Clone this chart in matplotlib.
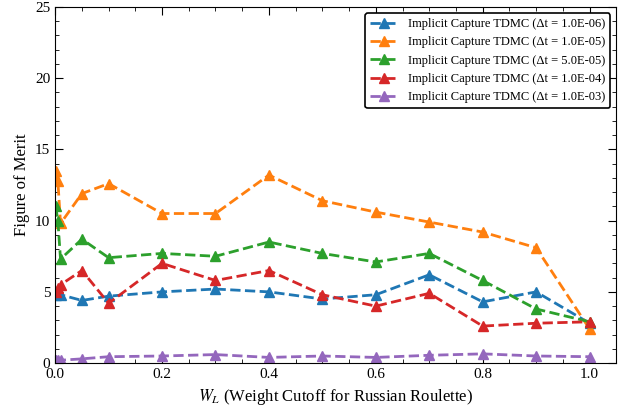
import numpy as np
import matplotlib
matplotlib.use("Agg")
import matplotlib.pyplot as plt
from matplotlib.ticker import MultipleLocator

plt.rcParams['font.family'] = ['Liberation Serif', 'DejaVu Serif']
plt.rcParams['mathtext.fontset'] = 'stix'

# Russian roulette weight cutoffs
w_cut = [0.001, 0.005, 0.01, 0.05, 0.1, 0.2, 0.3, 0.4, 0.5, 0.6, 0.7, 0.8, 0.9, 1.0]

# figure of merit per time step
fom_1e6 = [4.8, 4.9, 4.8, 4.4, 4.7, 5.0, 5.2, 5.0, 4.5, 4.8, 6.2, 4.3, 5.0, 2.8]
fom_1e5 = [13.5, 12.8, 9.8, 11.9, 12.6, 10.5, 10.5, 13.2, 11.4, 10.6, 9.9, 9.2, 8.1, 2.4]
fom_5e5 = [11.0, 10.0, 7.3, 8.7, 7.4, 7.7, 7.5, 8.5, 7.7, 7.1, 7.7, 5.8, 3.8, 2.9]
fom_1e4 = [5.0, 5.3, 5.5, 6.5, 4.2, 7.0, 5.8, 6.5, 4.8, 4.0, 4.9, 2.6, 2.8, 2.9]
fom_1e3 = [0.2, 0.2, 0.2, 0.3, 0.45, 0.5, 0.6, 0.4, 0.5, 0.4, 0.55, 0.65, 0.5, 0.45]

series = [
    ("1.0E-06", fom_1e6, "tab:blue"),
    ("1.0E-05", fom_1e5, "tab:orange"),
    ("5.0E-05", fom_5e5, "tab:green"),
    ("1.0E-04", fom_1e4, "tab:red"),
    ("1.0E-03", fom_1e3, "tab:purple"),
]

fig = plt.figure(figsize=(6.2, 4.08), dpi=100)
ax = fig.add_axes([0.089, 0.110, 0.905, 0.873])

for dt, fom, c in series:
    ax.plot(w_cut, fom, linestyle='--', marker='^', markersize=7, linewidth=2,
            color=c, label=f"Implicit Capture TDMC (Δt = {dt})")

ax.set_xlim(0, 1.05)
ax.set_ylim(0, 25)
ax.xaxis.set_major_locator(MultipleLocator(0.2))
ax.xaxis.set_minor_locator(MultipleLocator(0.05))
ax.yaxis.set_major_locator(MultipleLocator(5))
ax.yaxis.set_minor_locator(MultipleLocator(1))
ax.tick_params(which='both', direction='in', top=True, right=True, labelsize=11)
ax.tick_params(which='major', length=6)
ax.tick_params(which='minor', length=3)

ax.set_xlabel(r"$W_L$ (Weight Cutoff for Russian Roulette)", fontsize=12)
ax.set_ylabel("Figure of Merit", fontsize=12)

leg = ax.legend(loc='upper right', fontsize=9, fancybox=True, framealpha=1,
                edgecolor='black', handlelength=2.2)
leg.get_frame().set_linewidth(1.2)

fig.savefig("out.png", dpi=100)
